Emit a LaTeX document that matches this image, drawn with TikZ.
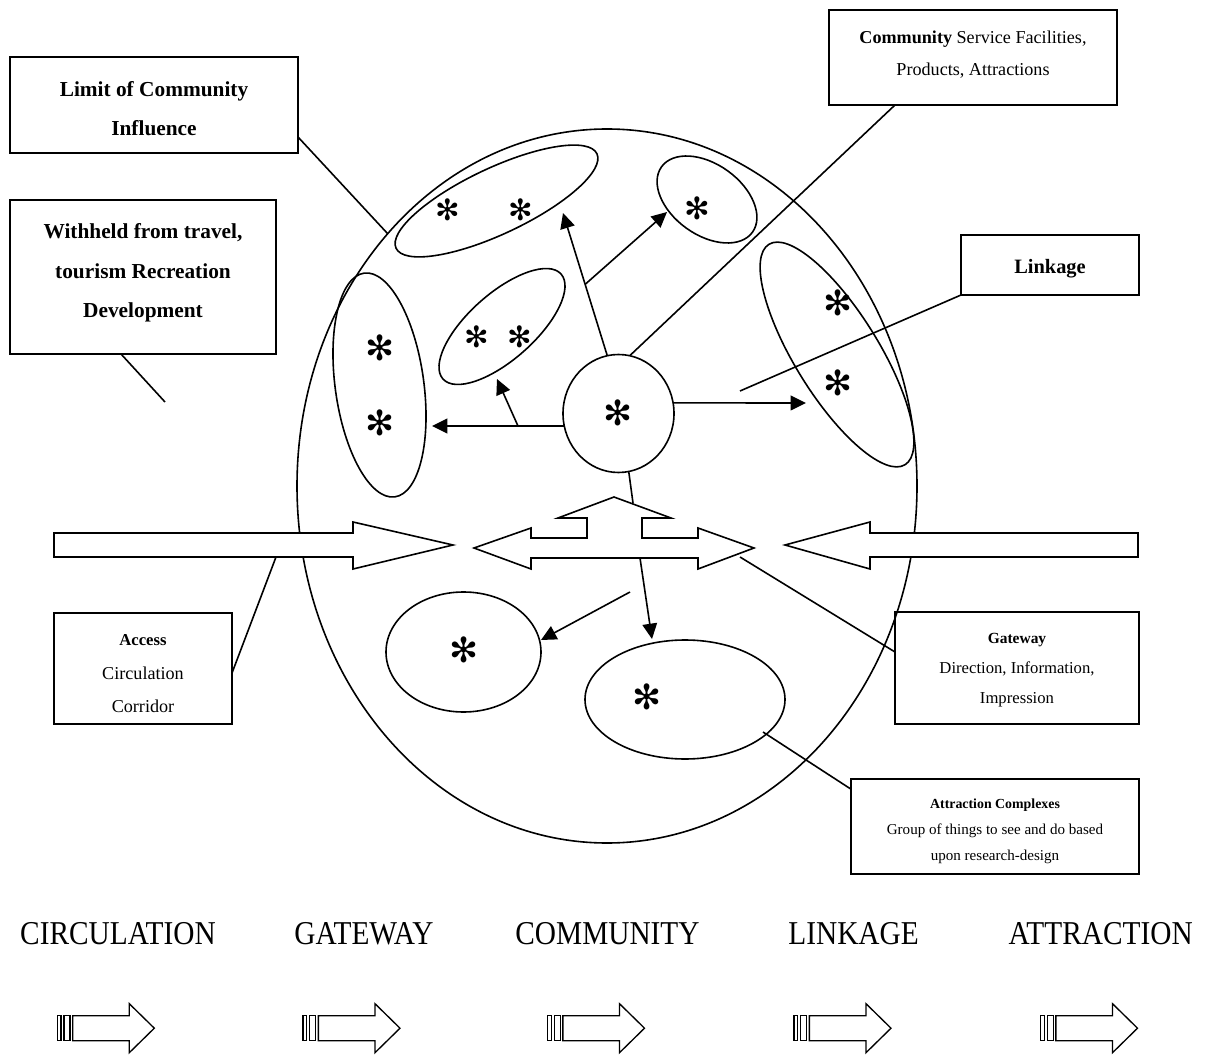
\documentclass[tikz,border=0pt]{standalone}
\usepackage{fontspec}
\setmainfont{Liberation Serif}
\newfontfamily\symfont{DejaVu Sans}
\newfontfamily\capsfont[FakeStretch=0.88]{Liberation Serif}
\usetikzlibrary{shapes.geometric,arrows.meta,calc}

\begin{document}
\begin{tikzpicture}[x=0.75pt,y=-0.75pt,
  stroke/.style={line width=1.2pt},
  blob/.style={draw, ellipse, stroke, inner sep=0pt, outer sep=0pt},
  labelbox/.style={draw, rectangle, line width=1.5pt, inner sep=0pt, outer sep=0pt},
  lead/.style={stroke},
  flow/.style={stroke, -{Triangle[length=11.5pt,width=11pt]}},
  broad/.style={draw, stroke, fill=white, line join=miter},
  star/.style={inner sep=0pt, font={\fontsize{#1}{#1}\selectfont\symfont}},
  txt/.style={anchor=base, inner sep=0pt},
  headA/.style={font={\fontsize{16pt}{19pt}\selectfont\bfseries}},
  headB/.style={font={\fontsize{15.3pt}{18pt}\selectfont\bfseries}},
  plainC/.style={font={\fontsize{13.6pt}{16pt}\selectfont}},
  boldC/.style={font={\fontsize{12.5pt}{15pt}\selectfont\bfseries}},
  plainD/.style={font={\fontsize{12.5pt}{15pt}\selectfont}},
  boldD/.style={font={\fontsize{11.6pt}{14pt}\selectfont\bfseries}},
  plainE/.style={font={\fontsize{11.3pt}{13pt}\selectfont}},
  boldE/.style={font={\fontsize{10.4pt}{12pt}\selectfont\bfseries}},
  stage/.style={anchor=base, inner sep=0pt, font={\fontsize{25pt}{30pt}\selectfont\capsfont}},
  stage arrow/.pic={
    \draw[line width=1pt] (0,-12.5) rectangle (3.7,12.5);
    \draw[line width=1pt] (6.7,-12.5) rectangle (12.7,12.5);
    \draw[line width=1pt, line join=miter] (15.4,-12.5) -- (72,-12.5) -- (72,-24.5)
      -- (97,0) -- (72,24.5) -- (72,12.5) -- (15.4,12.5) -- cycle;
  }
]
\useasboundingbox (0,0) rectangle (1210,1055);

% zone of community influence
\node[blob, minimum width=465pt, minimum height=535.5pt] (zone) at (607,486) {};

% circulation corridors entering from both sides
\draw[broad] (54,533) -- (353,533) -- (353,522) -- (453,545) -- (353,569)
  -- (353,557) -- (54,557) -- cycle;
\draw[broad] (1138,533) -- (870,533) -- (870,522) -- (785,545) -- (870,569)
  -- (870,557) -- (1138,557) -- cycle;

% gateway: three-way arrow
\draw[broad] (474,548) -- (531,528) -- (531,538) -- (587,538) -- (587,518)
  -- (558,518) -- (614,497) -- (671,518) -- (642,518) -- (642,538)
  -- (698,538) -- (698,528) -- (754,548) -- (698,569) -- (698,558)
  -- (531,558) -- (531,569) -- cycle;

% community hub and attraction clusters
\node[blob, minimum width=83.25pt, minimum height=88.5pt] (hub) at (618.5,413.5) {};
\node[blob, minimum width=166.5pt, minimum height=49.5pt, rotate=25.2] (blobA) at (496.5,201) {};
\node[blob, minimum width=84pt, minimum height=53pt, rotate=-35.7] (blobB) at (707,199.5) {};
\node[blob, minimum width=118.5pt, minimum height=49.5pt, rotate=41.6] (blobC) at (502,326.5) {};
\node[blob, minimum width=66.5pt, minimum height=169.4pt, rotate=7.8] (blobD) at (379.5,385) {};
\node[blob, minimum width=194.3pt, minimum height=63pt, rotate=-58.3] (blobE) at (837,354.5) {};
\node[blob, minimum width=116.25pt, minimum height=90pt] (blobF) at (463.5,652) {};
\node[blob, minimum width=150pt, minimum height=89.25pt] (blobG) at (685,699.5) {};

% attractions
\node[star=22pt] (sA1) at (448,210) {✻};
\node[star=22pt] (sA2) at (521,210) {✻};
\node[star=23pt] (sB1) at (697,208) {✻};
\node[star=22pt] (sC1) at (477,337) {✻};
\node[star=22pt] (sC2) at (520,337) {✻};
\node[star=26pt] (sD1) at (380,348) {✻};
\node[star=26pt] (sD2) at (380,423) {✻};
\node[star=26pt] (sH) at (618,413) {✻};
\node[star=26pt] (sE1) at (838,303) {✻};
\node[star=26pt] (sE2) at (838,383) {✻};
\node[star=26pt] (sF1) at (464,650) {✻};
\node[star=26pt] (sG1) at (647,697) {✻};

% linkage arrows
\coordinate (tipA) at (563,213);
\coordinate (tipB) at (667,212);
\coordinate (tipC) at (497,379);
\coordinate (tipD) at (432,426);
\coordinate (tipE) at (806,403);
\coordinate (tipF) at (541,640);
\coordinate (tipG) at (652,639);
\coordinate (brA) at ($(hub.101)!0.5!(tipA)$);
\coordinate (brD) at ($(hub.193)!0.35!(tipD)$);
\coordinate (gDrop) at (630,592);
\coordinate (gStem) at (640,558);
\coordinate (gTop) at (633,503);

\draw[flow] (hub.101) -- (tipA);
\draw[flow] (brA) -- (tipB);
\draw[flow] (hub.193) -- (tipD);
\draw[flow] (brD) -- (tipC);
\draw[flow] (hub.11) -- (tipE);
\draw[flow] (gDrop) -- (tipF);
\draw[flow] (gStem) -- (tipG);
\draw[lead] (hub.-80) -- (gTop);

% label boxes
\node[labelbox, minimum width=216pt, minimum height=72pt] (limit) at (154,105) {};
\node[txt, headA] (lim1) at (154,97) {Limit of Community};
\node[txt, headA] (lim2) at (154,136) {Influence};

\node[labelbox, minimum width=199.5pt, minimum height=115.5pt] (withheld) at (143,277) {};
\node[txt, headA] (wit1) at (143,239) {Withheld from travel,};
\node[txt, headA] (wit2) at (143,279) {tourism Recreation};
\node[txt, headA] (wit3) at (143,318) {Development};

\node[labelbox, minimum width=216pt, minimum height=71.25pt] (community) at (973,57.5) {};
\node[txt, plainC] (com1) at (973,43.3) {\textbf{Community} Service Facilities,};
\node[txt, plainC] (com2) at (973,76) {Products, Attractions};

\node[labelbox, minimum width=133.5pt, minimum height=45pt] (linkage) at (1050,265) {};
\node[txt, headB] (lin1) at (1050,273.3) {Linkage};

\node[labelbox, minimum width=133.5pt, minimum height=83.25pt] (access) at (143,668.5) {};
\node[txt, boldC] (acc1) at (143,645.7) {Access};
\node[txt, plainC] (acc2) at (143,679) {Circulation};
\node[txt, plainC] (acc3) at (143,712) {Corridor};

\node[labelbox, minimum width=183pt, minimum height=84pt] (gateway) at (1017,668) {};
\node[txt, boldD] (gat1) at (1017,643.3) {Gateway};
\node[txt, plainD] (gat2) at (1017,673.3) {Direction, Information,};
\node[txt, plainD] (gat3) at (1017,703.3) {Impression};

\node[labelbox, minimum width=216pt, minimum height=71.25pt] (attraction) at (995,826.5) {};
\node[txt, boldE] (att1) at (995,808.3) {Attraction Complexes};
\node[txt, plainE] (att2) at (995,834) {Group of things to see and do based};
\node[txt, plainE] (att3) at (995,860.7) {upon research-design};

% leader lines from the labels
\coordinate (wEnd) at (165,402);
\coordinate (linkStart) at (740,391);
\coordinate (gateStart) at (740,557);
\coordinate (attrStart) at (763,732);
\coordinate (accessIn) at (276,557);

\draw[lead] ([yshift=-24pt]limit.east) -- (zone.131);
\draw[lead] ([xshift=-16.5pt]withheld.south) -- (wEnd);
\draw[lead] (hub.79) -- ([xshift=-58.5pt]community.south);
\draw[lead] (linkStart) -- (linkage.south west);
\draw[lead] (gateStart) -- ([yshift=12pt]gateway.west);
\draw[lead] (attrStart) -- ([yshift=28pt]attraction.west);
\draw[lead] ([yshift=-3.4pt]access.east) -- (accessIn);

% stages of the tourism system
\node[stage] (st1) at (118,944) {CIRCULATION};
\node[stage] (st2) at (364,944) {GATEWAY};
\node[stage] (st3) at (607.5,944) {COMMUNITY};
\node[stage] (st4) at (853.6,944) {LINKAGE};
\node[stage] (st5) at (1100.6,944) {ATTRACTION};

\pic at (57.3,1028.2) {stage arrow};
\pic at (303,1028.2) {stage arrow};
\pic at (547.5,1028.2) {stage arrow};
\pic at (794,1028.2) {stage arrow};
\pic at (1040.5,1028.2) {stage arrow};
\end{tikzpicture}
\end{document}
